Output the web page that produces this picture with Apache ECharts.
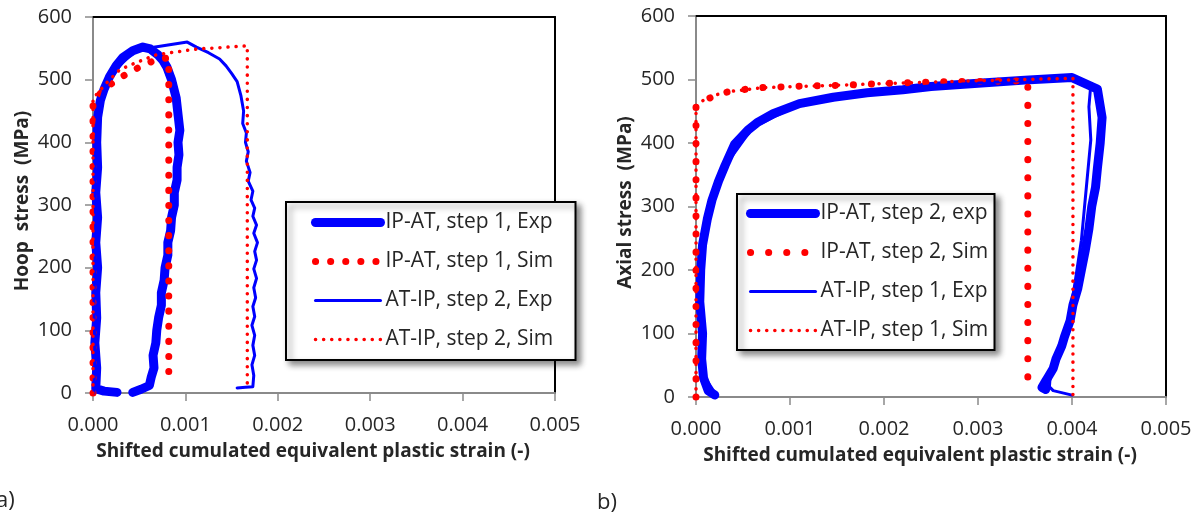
<!DOCTYPE html>
<html>
<head>
<meta charset="utf-8">
<title>Stress vs shifted cumulated equivalent plastic strain</title>
<script src="https://cdn.jsdelivr.net/npm/echarts@6/dist/echarts.min.js"></script>
<style>
  html, body { margin: 0; padding: 0; background: #fff; }
  #chart { width: 1203px; height: 526px; }
</style>
</head>
<body>
<div id="chart"></div>
<script>
// ---- axis ranges ----
const strainMin = 0, strainMax = 0.005, strainStep = 0.001;
const stressMin = 0, stressMax = 600, stressStep = 100;

// ---- legend names ----
const namesA = ['IP-AT, step 1, Exp', 'IP-AT, step 1, Sim', 'AT-IP, step 2, Exp', 'AT-IP, step 2, Sim'];
const namesB = ['IP-AT, step 2, exp', 'IP-AT, step 2, Sim', 'AT-IP, step 1, Exp', 'AT-IP, step 1, Sim'];

// ---- a) hoop stress [strain, MPa] ----
const hoopIpAtExp = [
  [0.00026, 1], [0.00012, 3], [0.00003, 7], [0.00004, 40], [0.00002, 80], [0.00004, 120],
  [0.00003, 160], [0.00005, 200], [0.00003, 240], [0.00005, 280], [0.00003, 320], [0.00005, 360],
  [0.00004, 400], [0.00005, 440], [0.00008, 467], [0.00012, 485], [0.00018, 505], [0.00025, 522],
  [0.00032, 535], [0.00043, 546], [0.00054, 552], [0.00062, 549], [0.0007, 540], [0.00076, 530],
  [0.0008, 520], [0.00085, 500], [0.0009, 471], [0.00092, 445], [0.00094, 419], [0.00092, 400],
  [0.00093, 380], [0.00091, 360], [0.00091, 340], [0.00088, 320], [0.00088, 300], [0.00085, 280],
  [0.00084, 259], [0.00081, 240], [0.00081, 220], [0.00078, 200], [0.00077, 180], [0.00074, 160],
  [0.00074, 140], [0.00071, 120], [0.00069, 100], [0.00068, 80], [0.00065, 60], [0.00066, 40],
  [0.00063, 25], [0.00061, 12], [0.00052, 6], [0.00043, 1]
];
const hoopIpAtSim = [
  [0, 0], [0, 465], [0.00013, 486], [0.00026, 500], [0.0004, 512], [0.00054, 523],
  [0.00069, 532], [0.00082, 535], [0.00082, 17]
];
const hoopAtIpExp = [
  [0.00001, 0], [0.00002, 60], [0.00001, 150], [0.00003, 250], [0.00002, 350], [0.00004, 430],
  [0.00007, 462], [0.00012, 485], [0.0002, 505], [0.0003, 524], [0.0004, 538], [0.0005, 548],
  [0.00102, 560], [0.00112, 552], [0.00125, 543], [0.00137, 533], [0.00144, 522], [0.0015, 510],
  [0.00156, 497], [0.0016, 475], [0.00163, 450], [0.00162, 430], [0.00166, 415], [0.00165, 400],
  [0.00168, 385], [0.00166, 370], [0.0017, 352], [0.00168, 338], [0.00173, 322], [0.00171, 308],
  [0.00175, 295], [0.00173, 282], [0.00177, 268], [0.00174, 255], [0.00178, 240], [0.00175, 226],
  [0.00177, 212], [0.00174, 198], [0.00177, 183], [0.00174, 168], [0.00176, 152], [0.00173, 138],
  [0.00175, 122], [0.00172, 108], [0.00175, 92], [0.00173, 76], [0.00175, 60], [0.00172, 45],
  [0.00174, 28], [0.00173, 10], [0.00165, 9], [0.00156, 8]
];
const hoopAtIpSim = [
  [0, 0], [0, 470], [0.00016, 497], [0.00029, 516], [0.00048, 528], [0.00069, 540],
  [0.00094, 545], [0.00113, 549], [0.00137, 551], [0.00156, 553], [0.00167, 554], [0.00167, 15]
];

// ---- b) axial stress [strain, MPa] ----
const axialIpAtExp = [
  [0.0002, 3], [0.00013, 10], [0.00008, 30], [0.00006, 60], [0.00007, 100], [0.00004, 150],
  [0.00005, 200], [0.00007, 240], [0.00012, 280], [0.00017, 310], [0.00024, 340], [0.00031, 365],
  [0.00041, 398], [0.00055, 420], [0.00065, 432], [0.00082, 446], [0.0011, 462], [0.00146, 472],
  [0.00182, 479], [0.0022, 484], [0.0025, 489], [0.003, 494], [0.0035, 499], [0.004, 503],
  [0.00427, 485], [0.00432, 440], [0.0043, 400], [0.00427, 360], [0.00425, 330], [0.00421, 300],
  [0.00418, 265], [0.00414, 230], [0.0041, 200], [0.00406, 170], [0.00401, 145], [0.00398, 120],
  [0.00392, 95], [0.00389, 80], [0.00383, 60], [0.0038, 45], [0.00374, 30], [0.00372, 25],
  [0.00368, 15], [0.00372, 12]
];
const axialIpAtSim = [
  [0, 0], [0, 460], [0.0001, 468], [0.00028, 479], [0.00045, 483], [0.00065, 487],
  [0.00084, 488], [0.00121, 490], [0.0016, 491], [0.002, 494], [0.0025, 496], [0.003, 497],
  [0.00353, 498], [0.00353, 22]
];
const axialAtIpExp = [
  [0.00022, 2], [0.0001, 30], [0.00006, 100], [0.00005, 200], [0.00012, 285], [0.0003, 362],
  [0.0006, 424], [0.0011, 461], [0.0018, 479], [0.0025, 490], [0.0033, 497], [0.004, 503],
  [0.0042, 492], [0.00418, 457], [0.0042, 405], [0.00415, 326], [0.0041, 247], [0.00402, 168],
  [0.00395, 105], [0.00386, 63], [0.00377, 38], [0.00376, 16], [0.0038, 10], [0.004, 3]
];
const axialAtIpSim = [
  [0, 0], [0, 458], [0.0001, 470], [0.0003, 480], [0.0007, 487], [0.0015, 491],
  [0.0025, 496], [0.0035, 500], [0.00401, 502], [0.00401, 0]
];

const BLUE = '#0000ff', RED = '#ff0000', AXIS_GRAY = '#8a8a8a', TEXT = '#262626';
const FONT = 'Open Sans';

// four line styles shared by both panels
function thickExp(name, data, xi) {
  return { name, type: 'line', data, xAxisIndex: xi, yAxisIndex: xi, symbol: 'none', clip: false,
    color: BLUE, lineStyle: { color: BLUE, width: 9, cap: 'round', join: 'round' } };
}
function bigDots(name, data, xi, gap) {
  return { name, type: 'line', data, xAxisIndex: xi, yAxisIndex: xi, symbol: 'none', clip: false,
    color: RED, lineStyle: { color: RED, width: 7, type: [0.1, gap], cap: 'round', join: 'round' } };
}
function thinExp(name, data, xi) {
  return { name, type: 'line', data, xAxisIndex: xi, yAxisIndex: xi, symbol: 'none', clip: false,
    color: BLUE, lineStyle: { color: BLUE, width: 3, cap: 'round', join: 'round' } };
}
function smallDots(name, data, xi) {
  return { name, type: 'line', data, xAxisIndex: xi, yAxisIndex: xi, symbol: 'none', clip: false,
    color: RED, lineStyle: { color: RED, width: 3.5, type: [0.1, 8], cap: 'round', join: 'round' } };
}

function mainX(gi) {
  return {
    type: 'value', gridIndex: gi, min: strainMin, max: strainMax, interval: strainStep,
    name: 'Shifted cumulated equivalent plastic strain (-)', nameLocation: 'middle', nameGap: 49,
    nameTextStyle: { fontFamily: FONT, fontSize: 19, fontWeight: 'bold', color: TEXT, padding: [0, 22, 0, 0] },
    axisLine: { show: true, onZero: false, lineStyle: { color: AXIS_GRAY, width: 2 } },
    axisTick: { show: true, inside: false, length: 8, lineStyle: { color: AXIS_GRAY, width: 1.5 } },
    axisLabel: { margin: 21, fontFamily: FONT, fontSize: 20, color: TEXT, lineHeight: 22,
      formatter: v => v.toFixed(3) },
    splitLine: { show: false }
  };
}
function frameX(gi) {
  return { type: 'value', gridIndex: gi, position: 'top', min: strainMin, max: strainMax,
    axisLine: { show: true, onZero: false, lineStyle: { color: '#000', width: 2 } },
    axisTick: { show: false }, axisLabel: { show: false }, splitLine: { show: false } };
}
function mainY(gi, title) {
  return {
    type: 'value', gridIndex: gi, min: stressMin, max: stressMax, interval: stressStep,
    name: title, nameLocation: 'middle', nameGap: 61, nameRotate: 90,
    nameTextStyle: { fontFamily: FONT, fontSize: 19, fontWeight: 'bold', color: TEXT, padding: [0, 0, 0, 8] },
    axisLine: { show: true, onZero: false, lineStyle: { color: AXIS_GRAY, width: 2 } },
    axisTick: { show: true, inside: false, length: 8, lineStyle: { color: AXIS_GRAY, width: 1.5 } },
    axisLabel: { margin: 21, fontFamily: FONT, fontSize: 20, color: TEXT },
    splitLine: { show: false }
  };
}
function frameY(gi) {
  return { type: 'value', gridIndex: gi, position: 'right', min: stressMin, max: stressMax,
    axisLine: { show: true, onZero: false, lineStyle: { color: '#000', width: 2 } },
    axisTick: { show: false }, axisLabel: { show: false }, splitLine: { show: false } };
}
function legendBox(names, left, top, padding, textWidth) {
  return {
    data: names, orient: 'vertical', left, top, padding,
    itemWidth: 65, itemHeight: 14, itemGap: 18, selectedMode: false,
    backgroundColor: '#fff', borderColor: '#000', borderWidth: 2, borderRadius: 0,
    shadowBlur: 6, shadowOffsetX: 4, shadowOffsetY: 4, shadowColor: 'rgba(0,0,0,0.45)',
    itemStyle: { opacity: 0 },
    lineStyle: { width: 'inherit' },
    textStyle: { fontFamily: FONT, fontSize: 21, color: TEXT, width: textWidth, lineHeight: 20 }
  };
}

const chart = echarts.init(document.getElementById('chart'), null, { renderer: 'canvas' });
chart.setOption({
  animation: false,
  backgroundColor: '#fff',
  grid: [
    { left: 93, top: 17, width: 462, height: 376, containLabel: false, outerBoundsMode: 'none' },
    { left: 696, top: 16, width: 470, height: 381, containLabel: false, outerBoundsMode: 'none' }
  ],
  xAxis: [mainX(0), mainX(1), frameX(0), frameX(1)],
  yAxis: [mainY(0, 'Hoop  stress  (MPa)'), mainY(1, 'Axial stress  (MPa)'), frameY(0), frameY(1)],
  legend: [
    legendBox(namesA, 286, 202, [10, 10, 10, 25], 180),
    legendBox(namesB, 737, 194, [9, 0, 9, 9], 174)
  ],
  graphic: [
    { type: 'text', left: -4, top: 490, style: { text: 'a)', fontFamily: FONT, fontSize: 22, fill: TEXT } },
    { type: 'text', left: 597, top: 492, style: { text: 'b)', fontFamily: FONT, fontSize: 22, fill: TEXT } }
  ],
  series: [
    thickExp(namesA[0], hoopIpAtExp, 0),
    bigDots(namesA[1], hoopIpAtSim, 0, 15),
    thinExp(namesA[2], hoopAtIpExp, 0),
    smallDots(namesA[3], hoopAtIpSim, 0),
    thickExp(namesB[0], axialIpAtExp, 1),
    bigDots(namesB[1], axialIpAtSim, 1, 18),
    thinExp(namesB[2], axialAtIpExp, 1),
    smallDots(namesB[3], axialAtIpSim, 1)
  ]
});
</script>
</body>
</html>
